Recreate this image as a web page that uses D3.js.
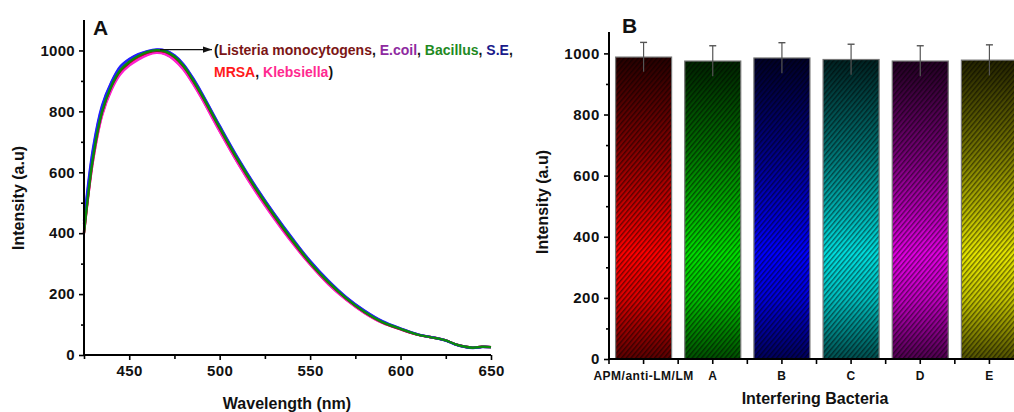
<!DOCTYPE html>
<html><head><meta charset="utf-8">
<script src="https://cdn.jsdelivr.net/npm/d3@7/dist/d3.min.js"></script>
<style>
html,body{margin:0;padding:0;background:#fff;}
svg{display:block;font-family:"Liberation Sans",Arial,Helvetica,sans-serif;}
</style></head><body>
<svg id="c" width="1014" height="412"></svg>
<script>
// ---- Panel A data ----
const wavelengths = [425,430,435,440,445,450,455,460,465,470,475,480,485,490,500,510,520,530,540,550,560,570,580,590,600,610,620,625,630,635,640,645,650];
const listeria   = [405,648,798,880,932,960,980,993,999,995,978,947,903,853,744,639,544,457,376,302,238,185,141,107,85,66,55,48,36,28,24,27,26];
const ecoil      = [430,672,815,892,944,970,986,997,1002,999,983,953,910,860,751,646,551,464,383,308,243,189,145,110,87,67,55,48,36,28,24,27,26];
const bacillus   = [400,650,800,882,935,963,982,995,1001,997,980,950,906,856,747,642,547,460,379,304,240,186,142,108,86,66,55,48,36,28,24,27,26];
const se         = [440,680,820,895,947,972,988,998,1003,1000,984,955,912,862,753,648,553,466,385,309,245,190,146,111,87,67,55,47,35,27,23,26,26];
const mrsa       = [400,640,790,872,925,953,973,987,994,989,970,939,895,845,736,632,537,451,371,298,234,182,139,106,85,66,55,48,36,28,24,27,26];
const klebsiella = [400,638,786,868,921,950,970,985,992,987,968,937,893,843,734,630,535,449,369,297,233,181,138,105,84,66,55,48,36,28,24,27,26];
const seriesNames  = ["MRSA","Klebsiella","Listeria monocytogens","E.coil","S.E","Bacillus"];
const seriesValues = [mrsa, klebsiella, listeria, ecoil, se, bacillus];
const seriesColors = ["#ff1010","#ff20d0","#8b1a1a","#8a2be2","#2020ff","#0a8a0a"];
const xTicksA = [450,500,550,600,650];
const yTicksA = [0,200,400,600,800,1000];

// ---- Panel B data ----
const categories = ["APM/anti-LM/LM","A","B","C","D","E"];
const barValues  = [988,975,985,980,975,978];
const barErrors  = [48,50,50,50,50,50];
const barColors  = ["#ff0000","#00e000","#0000ff","#00dede","#e000e0","#e6e600"];
const yTicksB = [0,200,400,600,800,1000];

const svg = d3.select("#c");
const txt = "#111";
const fmt = d3.format("d");

// ================= Panel A =================
const xA = d3.scaleLinear().domain([425,650]).range([84,491]);
const yA = d3.scaleLinear().domain([0,1100]).range([355,20]);

const gA = svg.append("g");
const line = d3.line().x((d,i)=>xA(wavelengths[i])).y(d=>yA(d)).curve(d3.curveCatmullRom);
seriesValues.forEach((vals,k)=>{
  gA.append("path").attr("d", line(vals)).attr("fill","none")
    .attr("stroke", seriesColors[k]).attr("stroke-width",2.4).attr("stroke-linejoin","round");
});

const yAxA = gA.append("g").attr("transform","translate(84,0)")
  .call(d3.axisLeft(yA).tickValues(yTicksA).tickFormat(fmt).tickSize(5).tickPadding(4));
const yMinorA = gA.append("g").attr("transform","translate(84,0)")
  .call(d3.axisLeft(yA).tickValues(d3.range(100,1100,200)).tickSize(3).tickFormat(""));
const xAxA = gA.append("g").attr("transform","translate(0,355)")
  .call(d3.axisBottom(xA).tickValues(xTicksA).tickFormat(fmt).tickSize(5).tickPadding(5));
const xMinorA = gA.append("g").attr("transform","translate(0,355)")
  .call(d3.axisBottom(xA).tickValues([425,475,525,575,625]).tickSize(4).tickFormat(""));
[yAxA,yMinorA,xAxA,xMinorA].forEach(a=>{
  a.select(".domain").attr("stroke","#000").attr("stroke-width",2);
  a.selectAll(".tick line").attr("stroke","#000").attr("stroke-width",1.6);
  a.selectAll("text").attr("fill",txt).attr("font-size",15).attr("font-weight","bold")
    .attr("font-family","Liberation Sans, Arial, sans-serif");
});
yAxA.select(".domain").attr("d","M-0,355V20");
xAxA.select(".domain").attr("d","M84,0H491");
yMinorA.select(".domain").remove(); xMinorA.select(".domain").remove();
xAxA.selectAll("text").attr("letter-spacing",0.4);
yAxA.selectAll("text").attr("letter-spacing",0.3);

gA.append("text").attr("x",93).attr("y",35).attr("font-size",21).attr("font-weight","bold").attr("fill",txt).text("A");
gA.append("text").attr("x",287).attr("y",409).attr("text-anchor","middle").attr("font-size",16).attr("font-weight","bold").attr("fill",txt).text("Wavelength (nm)");
gA.append("text").attr("transform","translate(24,198) rotate(-90)").attr("text-anchor","middle").attr("font-size",16).attr("font-weight","bold").attr("fill",txt).text("Intensity (a.u)");

const defs = svg.append("defs");
defs.append("marker").attr("id","arr").attr("viewBox","0 0 10 10").attr("refX",10).attr("refY",5)
  .attr("markerWidth",7).attr("markerHeight",7).attr("orient","auto")
  .append("path").attr("d","M0,1.5L10,5L0,8.5Z").attr("fill","#111");
gA.append("line").attr("x1",xA(467)).attr("y1",yA(1003)).attr("x2",212).attr("y2",yA(1003))
  .attr("stroke","#111").attr("stroke-width",1.3).attr("marker-end","url(#arr)");

const ann1 = gA.append("text").attr("x",214).attr("y",55).attr("font-size",14).attr("font-weight","bold");
const parts1 = [["(", "#111"],["Listeria monocytogens","#7b1616"],[", ","#111"],["E.coil","#8e2aa0"],[", ","#111"],["Bacillus","#1f8a1f"],[", ","#111"],["S.E","#1a1a8a"],[",","#111"]];
parts1.forEach(p=>ann1.append("tspan").attr("fill",p[1]).text(p[0]));
const ann2 = gA.append("text").attr("x",214).attr("y",77).attr("font-size",14).attr("font-weight","bold");
const parts2 = [["MRSA","#ff1a1a"],[", ","#111"],["Klebsiella","#ff2a90"],[")","#111"]];
parts2.forEach(p=>ann2.append("tspan").attr("fill",p[1]).text(p[0]));

// ================= Panel B =================
const xB = d3.scaleBand().domain(categories).range([609,1024]).paddingInner(0.19).paddingOuter(0.095);
const yB = d3.scaleLinear().domain([0,1070]).range([359,32]);
const gB = svg.append("g");

const pat = defs.append("pattern").attr("id","hatch").attr("patternUnits","userSpaceOnUse")
  .attr("width",3.6).attr("height",3.6).attr("patternTransform","rotate(40)");
pat.append("rect").attr("x",0).attr("y",0).attr("width",1.4).attr("height",3.6).attr("fill","rgba(0,0,0,0.5)");

barColors.forEach((c,i)=>{
  const g = defs.append("linearGradient").attr("id","grad"+i).attr("x1",0).attr("y1",0).attr("x2",0).attr("y2",1);
  const k = t=>d3.interpolateRgb("#000",c)(t);
  [[0,k(0.15)],[0.3,k(0.5)],[0.65,c],[0.8,k(0.85)],[1,k(0.35)]].forEach(s=>
    g.append("stop").attr("offset",s[0]).attr("stop-color",s[1]));
});

categories.forEach((cat,i)=>{
  const x = xB(cat), w = xB.bandwidth(), y = yB(barValues[i]), h = yB(0)-yB(barValues[i]);
  gB.append("rect").attr("x",x).attr("y",y).attr("width",w).attr("height",h).attr("fill","url(#grad"+i+")");
  gB.append("rect").attr("x",x).attr("y",y).attr("width",w).attr("height",h).attr("fill","url(#hatch)")
    .attr("stroke","#777").attr("stroke-width",1.2);
  const cx = x + w/2;
  gB.append("line").attr("x1",cx).attr("x2",cx).attr("y1",yB(barValues[i]-barErrors[i])).attr("y2",yB(barValues[i]+barErrors[i]))
    .attr("stroke","#555").attr("stroke-width",1.2);
  gB.append("line").attr("x1",cx-3.5).attr("x2",cx+3.5).attr("y1",yB(barValues[i]+barErrors[i])).attr("y2",yB(barValues[i]+barErrors[i]))
    .attr("stroke","#555").attr("stroke-width",1.4);
});

const yAxB = gB.append("g").attr("transform","translate(609,0)")
  .call(d3.axisLeft(yB).tickValues(yTicksB).tickFormat(fmt).tickSize(5).tickPadding(4));
const yMinB = gB.append("g").attr("transform","translate(609,0)")
  .call(d3.axisLeft(yB).tickValues(d3.range(100,1000,200)).tickSize(3).tickFormat(""));
const xAxB = gB.append("g").attr("transform","translate(0,359)")
  .call(d3.axisBottom(xB).tickSize(5).tickPadding(7));
const bounds = categories.map(c=>xB(c)-xB.step()*xB.paddingInner()/2);
gB.append("g").selectAll("line").data(bounds).join("line")
  .attr("x1",d=>d).attr("x2",d=>d).attr("y1",359).attr("y2",364).attr("stroke","#000").attr("stroke-width",1.6);
[yAxB,yMinB,xAxB].forEach(a=>{
  a.select(".domain").attr("stroke","#000").attr("stroke-width",2);
  a.selectAll(".tick line").attr("stroke","#000").attr("stroke-width",1.6);
  a.selectAll("text").attr("fill",txt).attr("font-weight","bold")
    .attr("font-family","Liberation Sans, Arial, sans-serif");
});
yAxB.selectAll("text").attr("font-size",15).attr("letter-spacing",0.6);
xAxB.selectAll("text").attr("font-size",12).attr("letter-spacing",0.5);
yAxB.select(".domain").attr("d","M0,359V32");
xAxB.select(".domain").attr("d","M609,0H1024");
yMinB.select(".domain").remove();

gB.append("text").attr("x",622).attr("y",33).attr("font-size",21).attr("font-weight","bold").attr("fill",txt).text("B");
gB.append("text").attr("x",815).attr("y",404).attr("text-anchor","middle").attr("font-size",16).attr("font-weight","bold").attr("fill",txt).text("Interfering Bacteria");
gB.append("text").attr("transform","translate(548,202) rotate(-90)").attr("text-anchor","middle").attr("font-size",16).attr("font-weight","bold").attr("fill",txt).text("Intensity (a.u)");
</script>
</body></html>
